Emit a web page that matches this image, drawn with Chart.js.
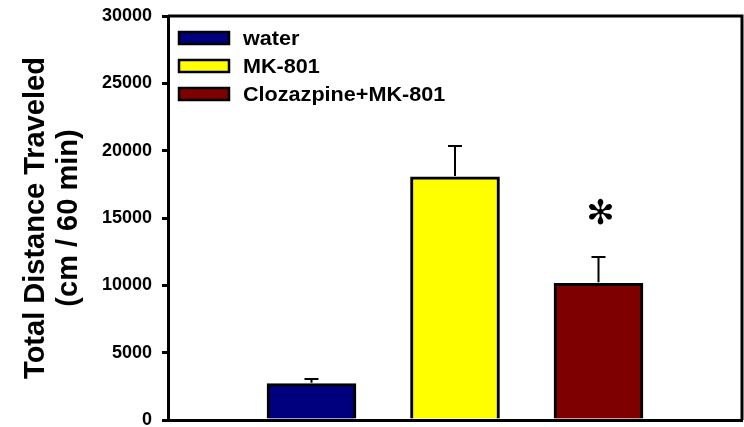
<!DOCTYPE html>
<html>
<head>
<meta charset="utf-8">
<script src="https://cdn.jsdelivr.net/npm/chart.js@4/dist/chart.umd.min.js"></script>
<style>
  html, body { margin: 0; padding: 0; background: #fff; }
  #wrap { width: 744px; height: 427px; position: relative; }
</style>
</head>
<body>
<div id="wrap"><canvas id="c" width="744" height="427"></canvas></div>
<script>
// ---- data ----
const groups = ['water', 'MK-801', 'Clozazpine+MK-801'];
const means = [2700, 18050, 10150];
const sems = [350, 2300, 1950];
const significant = [false, false, true];
const yTicks = [0, 5000, 10000, 15000, 20000, 25000, 30000];
const axisTitle = ['Total Distance Traveled', '(cm / 60 min)'];

// ---- style ----
const colors = ['#00007f', '#ffff00', '#7f0000'];
const FONT = "'Liberation Sans', Arial, sans-serif";

const slots = [''].concat(groups, ['']);

const datasets = groups.map((g, i) => ({
  label: g,
  data: slots.map(s => (s === g ? means[i] : null)),
  backgroundColor: colors[i],
  borderColor: '#000',
  borderWidth: 3,
  barThickness: 89,
  grouped: false
}));

const extras = {
  id: 'extras',
  afterDatasetsDraw(chart) {
    const ctx = chart.ctx;
    const x = chart.scales.x, y = chart.scales.y;
    const ca = chart.chartArea;
    ctx.save();
    // error bars
    ctx.strokeStyle = '#000';
    ctx.lineWidth = 2;
    groups.forEach((g, i) => {
      const px = x.getPixelForValue(slots.indexOf(g));
      const y0 = y.getPixelForValue(means[i]);
      const y1 = y.getPixelForValue(means[i] + sems[i]);
      ctx.beginPath();
      ctx.moveTo(px, y0 - 1); ctx.lineTo(px, y1);
      ctx.moveTo(px - 7, y1); ctx.lineTo(px + 7, y1);
      ctx.stroke();
      if (significant[i]) {
        ctx.fillStyle = '#000';
        ctx.font = "34px 'DejaVu Sans'";
        ctx.textAlign = 'center';
        ctx.textBaseline = 'middle';
        ctx.fillText('\u273B', px + 2, y1 - 42);
      }
    });
    // frame top/right
    ctx.lineWidth = 3;
    ctx.beginPath();
    ctx.moveTo(ca.left, ca.top); ctx.lineTo(ca.right, ca.top); ctx.lineTo(ca.right, ca.bottom);
    ctx.stroke();
    // legend
    chart.data.datasets.forEach((ds, i) => {
      const by = 32 + i * 28;
      ctx.fillStyle = ds.backgroundColor;
      ctx.fillRect(179, by, 50, 12);
      ctx.lineWidth = 2.5;
      ctx.strokeStyle = '#000';
      ctx.strokeRect(179, by, 50, 12);
      ctx.save();
      ctx.translate(243, by + 7);
      ctx.scale(1.08, 1);
      ctx.font = 'bold 20px ' + FONT;
      ctx.textAlign = 'left';
      ctx.textBaseline = 'middle';
      ctx.fillStyle = '#000';
      ctx.fillText(ds.label, 0, 0);
      ctx.restore();
    });
    ctx.restore();
  }
};

new Chart(document.getElementById('c'), {
  type: 'bar',
  data: { labels: slots, datasets },
  options: {
    responsive: false,
    animation: false,
    layout: { padding: { left: 0, top: 16, right: 2, bottom: 7 } },
    plugins: { legend: { display: false }, tooltip: { enabled: false } },
    scales: {
      x: {
        offset: false,
        afterFit(s) { s.height = 0; s.paddingLeft = 0; s.paddingRight = 0; },
        ticks: { display: false },
        grid: { display: false, drawTicks: false },
        border: { display: true, color: '#000', width: 3 }
      },
      y: {
        min: 0, max: 30000,
        afterBuildTicks(s) { s.ticks = yTicks.map(v => ({ value: v })); },
        afterFit(s) { s.width = 168; s.paddingTop = 0; s.paddingBottom = 0; },
        ticks: {
          color: '#000', padding: 10,
          font: { family: FONT, size: 18, weight: 'bold' },
          callback: v => String(v)
        },
        grid: { drawOnChartArea: false, drawTicks: true, tickLength: 6, color: '#000', lineWidth: 3 },
        border: { display: true, color: '#000', width: 3 },
        title: {
          display: true, text: axisTitle, color: '#000',
          font: { family: FONT, size: 29, weight: 'bold', lineHeight: 1.15 },
          padding: { top: 19, bottom: 0 }
        }
      }
    }
  },
  plugins: [extras]
});
</script>
</body>
</html>
